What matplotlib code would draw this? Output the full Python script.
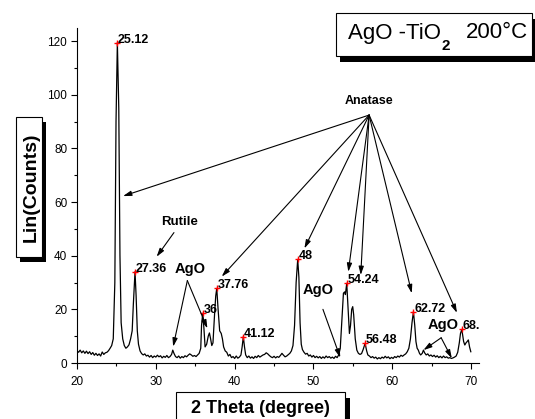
import matplotlib
matplotlib.use("Agg")
import matplotlib.pyplot as plt
from matplotlib.patches import Rectangle

plt.rcParams['font.family'] = ['Liberation Sans', 'DejaVu Sans']

# XRD pattern (2 theta, counts)
two_theta = [20.0, 20.2, 20.4, 20.6, 20.8, 21.0, 21.2, 21.4, 21.6, 21.8, 22.0, 22.2, 22.4, 22.6, 22.8,
             23.0, 23.2, 23.4, 23.6, 23.8, 24.0, 24.2, 24.4, 24.6, 24.8, 24.95, 25.12, 25.3, 25.45, 25.6,
             25.8, 26.0, 26.2, 26.4, 26.6, 26.8, 27.0, 27.15, 27.36, 27.5, 27.65, 27.8, 28.0, 28.2, 28.4,
             28.6, 28.8, 29.0, 29.2, 29.4, 29.6, 29.8, 30.0, 30.2, 30.4, 30.6, 30.8, 31.0, 31.2, 31.4,
             31.6, 31.8, 32.0, 32.15, 32.3, 32.5, 32.7, 32.9, 33.1, 33.3, 33.5, 33.7, 33.9, 34.1, 34.3,
             34.5, 34.7, 34.9, 35.1, 35.3, 35.5, 35.7, 35.8, 35.95, 36.1, 36.25, 36.45, 36.65, 36.8, 36.95,
             37.1, 37.25, 37.45, 37.6, 37.73, 37.9, 38.1, 38.3, 38.45, 38.6, 38.8, 39.0, 39.2, 39.4, 39.6,
             39.8, 40.0, 40.2, 40.4, 40.6, 40.8, 40.95, 41.1, 41.25, 41.4, 41.6, 41.8, 42.0, 42.2, 42.4,
             42.6, 42.8, 43.0, 43.2, 43.4, 43.6, 43.8, 44.0, 44.2, 44.4, 44.6, 44.8, 45.0, 45.2, 45.4,
             45.6, 45.8, 46.0, 46.2, 46.4, 46.6, 46.8, 47.0, 47.2, 47.4, 47.6, 47.8, 48.0, 48.15, 48.3,
             48.45, 48.6, 48.8, 49.0, 49.2, 49.4, 49.6, 49.8, 50.0, 50.2, 50.4, 50.6, 50.8, 51.0, 51.2,
             51.4, 51.6, 51.8, 52.0, 52.2, 52.4, 52.6, 52.8, 53.0, 53.2, 53.4, 53.6, 53.8, 53.95, 54.05,
             54.22, 54.4, 54.56, 54.7, 54.85, 54.98, 55.1, 55.3, 55.5, 55.7, 55.9, 56.1, 56.3, 56.55, 56.75,
             56.9, 57.1, 57.3, 57.5, 57.7, 57.9, 58.1, 58.3, 58.5, 58.7, 58.9, 59.1, 59.3, 59.5, 59.7,
             59.9, 60.1, 60.3, 60.5, 60.7, 60.9, 61.1, 61.3, 61.5, 61.7, 61.9, 62.1, 62.3, 62.5, 62.68,
             62.85, 63.0, 63.15, 63.3, 63.45, 63.6, 63.8, 63.95, 64.1, 64.3, 64.5, 64.7, 64.9, 65.1, 65.3,
             65.5, 65.7, 65.9, 66.1, 66.3, 66.5, 66.7, 66.9, 67.1, 67.3, 67.5, 67.7, 67.9, 68.1, 68.3,
             68.5, 68.65, 68.82, 68.95, 69.05, 69.2, 69.35, 69.5, 69.65, 69.8, 69.96]
counts = [4.6, 4.0, 4.8, 3.8, 4.5, 3.6, 4.4, 3.5, 4.2, 3.2, 3.9, 2.9, 3.6, 2.8, 3.4,
          2.6, 4.1, 3.2, 3.8, 4.0, 4.6, 5.5, 6.5, 9.0, 30.0, 90.0, 119.4, 95.0, 40.0, 15.0,
          9.0, 6.5, 5.5, 6.0, 6.8, 9.0, 12.0, 22.0, 34.0, 25.0, 12.0, 7.0, 4.5, 3.5, 3.0,
          3.4, 2.6, 2.9, 2.2, 2.8, 2.0, 2.6, 2.2, 2.9, 2.3, 2.7, 1.9, 2.5, 2.1, 2.8,
          2.0, 2.4, 3.2, 4.8, 3.6, 2.4, 2.0, 2.6, 1.8, 2.4, 2.0, 2.7, 2.3, 2.9, 3.4,
          3.0, 2.5, 2.8, 2.4, 3.0, 3.6, 5.5, 14.0, 18.5, 13.0, 6.0, 7.0, 10.0, 11.2, 9.0,
          6.5, 7.5, 18.0, 25.0, 27.8, 20.0, 12.0, 11.0, 9.0, 6.0, 4.5, 4.0, 2.6, 3.2, 2.0,
          2.4, 1.7, 2.6, 1.8, 2.2, 3.0, 6.0, 9.8, 6.0, 3.0, 2.0, 2.6, 1.8, 2.3, 1.7,
          2.5, 2.0, 2.8, 2.2, 2.6, 3.0, 3.2, 3.8, 3.4, 2.8, 2.3, 2.0, 2.5, 1.9, 2.4,
          2.1, 2.8, 3.6, 2.9, 2.3, 2.6, 3.1, 3.6, 4.5, 6.5, 14.0, 30.0, 38.6, 32.0, 15.0,
          7.0, 5.0, 4.0, 3.3, 3.6, 2.6, 3.0, 2.2, 2.8, 2.0, 2.5, 1.9, 2.4, 1.7, 2.3,
          1.8, 2.6, 2.0, 2.4, 1.8, 2.2, 1.7, 2.5, 2.0, 3.0, 5.5, 16.0, 26.0, 26.5, 25.5,
          29.7, 20.0, 11.0, 14.0, 20.0, 21.0, 18.0, 9.0, 4.8, 3.6, 3.2, 3.5, 5.0, 7.3, 4.5,
          3.0, 2.6, 2.0, 2.4, 1.8, 2.2, 1.5, 2.0, 1.6, 2.2, 1.8, 2.5, 1.9, 2.3, 1.6,
          2.1, 1.7, 2.4, 2.0, 2.6, 2.2, 2.9, 2.5, 3.0, 3.4, 4.2, 5.5, 9.0, 15.0, 19.1,
          14.0, 8.0, 5.5, 4.8, 3.6, 3.0, 3.6, 4.8, 3.8, 3.0, 3.4, 2.6, 3.0, 2.4, 2.9,
          2.2, 2.7, 2.0, 2.5, 1.9, 2.6, 2.0, 2.3, 1.8, 2.0, 1.7, 1.9, 2.2, 2.6, 4.0,
          7.5, 11.0, 12.5, 10.0, 8.0, 6.7, 7.5, 8.0, 8.6, 6.0, 4.2]

# marked peaks
peak_x = [25.12, 27.36, 35.95, 37.73, 41.1, 48.0, 54.22, 56.55, 62.68, 68.82]
peak_y = [119.4, 34.0, 18.5, 27.8, 9.8, 38.6, 29.7, 7.3, 19.1, 12.5]
peak_labels = ['25.12', '27.36', '36', '37.76', '41.12', '48', '54.24', '56.48', '62.72', '68.8']

# phase annotations: (text position) and arrow tips
anatase_xy = (57.1, 97.7)
anatase_from = (57.06, 92.4)
anatase_tips = [(25.84, 62.2), (38.36, 32.2), (48.85, 42.7), (54.42, 34.0),
                (56.0, 32.8), (62.47, 26.0), (68.2, 18.7)]
rutile_xy = (33.07, 52.5)
rutile_arrow = ((32.3, 48.6), (30.1, 39.6))
ago_groups = [
    ((34.4, 35.2), (34.0, 30.7), [(32.2, 6.1), (36.54, 12.9)]),
    ((50.58, 27.2), (51.2, 20.0), [(53.4, 2.0)]),
    ((66.5, 14.2), (66.2, 9.4), [(63.95, 4.8), (67.55, 1.75)]),
]

W, H = 535, 419
fig = plt.figure(figsize=(W / 100, H / 100), dpi=100)
ax = fig.add_axes([77 / W, 1 - 363 / H, 402 / W, 335.4 / H])

ax.plot(two_theta, counts, color='black', lw=0.9)
ax.plot(peak_x, peak_y, '+', color='red', ms=4, mew=1)

ax.set_xlim(20, 71)
ax.set_ylim(0, 125)
ax.set_xticks(range(20, 71, 10))
ax.set_xticks(range(25, 71, 10), minor=True)
ax.set_yticks(range(0, 121, 20))
ax.set_yticks(range(10, 121, 20), minor=True)
ax.spines['top'].set_visible(False)
ax.spines['right'].set_visible(False)
ax.tick_params(which='major', direction='out', length=4, width=0.8, labelsize=8.5)
ax.tick_params(which='minor', direction='out', length=2.5, width=0.8)
ax.tick_params(axis='x', pad=5)
ax.tick_params(axis='y', pad=3)

for x, y, lab in zip(peak_x, peak_y, peak_labels):
    ax.annotate(lab, (x, y), xytext=(0.5, 0), textcoords='offset points',
                ha='left', va='baseline', fontsize=9, fontweight='bold',
                annotation_clip=False, clip_on=True)

arrow = dict(arrowstyle='-|>,head_length=0.5,head_width=0.15', color='black',
             lw=0.8, shrinkA=0, shrinkB=0)

ax.text(anatase_xy[0], anatase_xy[1], 'Anatase', ha='center', va='center',
        fontsize=9, fontweight='bold')
for tip in anatase_tips:
    ax.annotate('', xy=tip, xytext=anatase_from, arrowprops=arrow)

ax.text(rutile_xy[0], rutile_xy[1], 'Rutile', ha='center', va='center',
        fontsize=9.5, fontweight='bold')
ax.annotate('', xy=rutile_arrow[1], xytext=rutile_arrow[0], arrowprops=arrow)

for txt_xy, src, tips in ago_groups:
    ax.text(txt_xy[0], txt_xy[1], 'AgO', ha='center', va='center',
            fontsize=10.5, fontweight='bold')
    for tip in tips:
        ax.annotate('', xy=tip, xytext=src, arrowprops=arrow)


def shadow_box(x0, y0, x1, y1, dx, dy):
    # pixel coords from the top-left corner of the figure
    fig.add_artist(Rectangle(((x0 + dx) / W, 1 - (y1 + dy) / H), (x1 - x0) / W, (y1 - y0) / H,
                             transform=fig.transFigure, facecolor='black', edgecolor='none'))
    fig.add_artist(Rectangle((x0 / W, 1 - y1 / H), (x1 - x0) / W, (y1 - y0) / H,
                             transform=fig.transFigure, facecolor='white', edgecolor='black', lw=0.8))


shadow_box(16, 117, 42, 257, 4, 5)
fig.text(36 / W, 1 - 187 / H, 'Lin(Counts)', rotation=90, rotation_mode='anchor',
         ha='center', va='baseline', fontsize=14, fontweight='bold')

shadow_box(176, 392, 345, 430, 5, 6)
fig.text(260.5 / W, 1 - 413 / H, '2 Theta (degree)', ha='center', va='baseline',
         fontsize=13, fontweight='bold')

# title box, subscript 2 drawn as its own piece of text
shadow_box(336, 13, 532, 56, 4, 6)
renderer = fig.canvas.get_renderer()
t1 = fig.text(348 / W, 1 - 38.5 / H, 'AgO -TiO', ha='left', va='baseline', fontsize=16)
x_end = t1.get_window_extent(renderer).x1
t2 = fig.text((x_end + 1) / W, 1 - 50 / H, '2', ha='left', va='baseline',
              fontsize=11, fontweight='bold')
x_end = t2.get_window_extent(renderer).x1
fig.text((x_end + 15) / W, 1 - 38.5 / H, '200°C', ha='left', va='baseline', fontsize=16)

fig.savefig('out.png', dpi=100)
